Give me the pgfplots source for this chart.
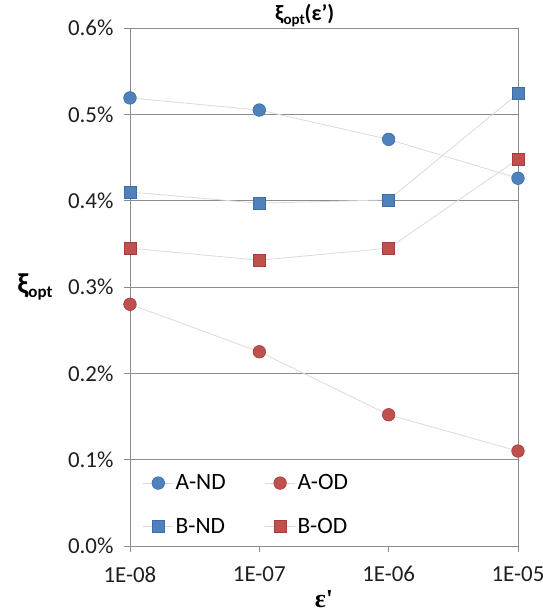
\documentclass[border=0pt]{standalone}
\usepackage{pgfplots}
\pgfplotsset{compat=1.18}
\usepackage{fontspec}
\setmainfont{Carlito}
\newfontfamily\serifb{Liberation Serif}
\definecolor{blueM}{HTML}{4F81BD}
\definecolor{blueE}{HTML}{3C6BA5}
\definecolor{redM}{HTML}{C0504D}
\definecolor{redE}{HTML}{A43E3B}
\definecolor{gridc}{HTML}{8C8C8C}
\definecolor{linec}{HTML}{DADADA}
\begin{document}
\begin{tikzpicture}[x=1bp,y=1bp]
\useasboundingbox (-130bp,-69bp) rectangle (413bp,546bp);
\begin{axis}[
  at={(0,0)}, anchor=south west,
  scale only axis, width=388bp, height=518bp,
  xmode=log, xmin=1e-8, xmax=1e-5,
  xtick={1e-8,1e-7,1e-6,1e-5},
  xticklabels={1E-08,1E-07,1E-06,1E-05},
  ymin=0, ymax=0.6, ytick={0,0.1,0.2,0.3,0.4,0.5,0.6},
  yticklabel={\pgfmathprintnumber[fixed,fixed zerofill,precision=1]{\tick}\%},
  /pgf/number format/assume math mode=true,
  ymajorgrids, major grid style={gridc, line width=0.9bp},
  axis line style={gridc, line width=0.9bp},
  tick style={gridc, line width=0.9bp},
  tick align=outside, major tick length=6bp,
  xtick pos=bottom, ytick pos=left,
  minor tick num=0, xminorticks=false,
  tick label style={font=\fontsize{23}{25}\selectfont, text=black!88},
  xticklabel style={yshift=-11bp},
  yticklabel style={xshift=-7bp},
  title={\fontsize{22}{24}\selectfont\bfseries ξ\raisebox{-0.35ex}{\fontsize{15}{16}\selectfont opt}(ε')},
  title style={at={(axis description cs:0.45,1.013)}, anchor=center},
  ylabel={\fontsize{29}{31}\selectfont\bfseries ξ\raisebox{-0.35ex}{\fontsize{17}{18}\selectfont opt}},
  every axis y label/.style={at={(axis description cs:-0.245,0.5)}, anchor=center},
  xlabel={\fontsize{26}{28}\selectfont\serifb\bfseries ε'},
  every axis x label/.style={at={(axis description cs:0.5,-0.102)}, anchor=center},
  legend columns=2,
  legend image code/.code={\draw[mark repeat=2,mark phase=2,#1] plot coordinates {(0bp,0bp) (15bp,0bp) (30bp,0bp)};},
  legend style={at={(axis description cs:0.025,0.013)}, anchor=south west, draw=none, fill=none,
    font=\fontsize{23.5}{25}\selectfont, row sep=23bp, /tikz/every even column/.append style={column sep=37bp}},
  legend cell align=left,
]
\addplot[linec, line width=0.8bp, mark=*, mark size=6.3bp, mark options={fill=blueM, draw=blueE, line width=0.6bp}]
  coordinates {(1e-8,0.519) (1e-7,0.505) (1e-6,0.471) (1e-5,0.426)};
\addlegendentry{A-ND}
\addplot[linec, line width=0.8bp, mark=*, mark size=6.3bp, mark options={fill=redM, draw=redE, line width=0.6bp}]
  coordinates {(1e-8,0.280) (1e-7,0.225) (1e-6,0.152) (1e-5,0.110)};
\addlegendentry{A-OD}
\addplot[linec, line width=0.8bp, mark=square*, mark size=6bp, mark options={fill=blueM, draw=blueE, line width=0.6bp}]
  coordinates {(1e-8,0.410) (1e-7,0.397) (1e-6,0.401) (1e-5,0.524)};
\addlegendentry{B-ND}
\addplot[linec, line width=0.8bp, mark=square*, mark size=6bp, mark options={fill=redM, draw=redE, line width=0.6bp}]
  coordinates {(1e-8,0.345) (1e-7,0.331) (1e-6,0.345) (1e-5,0.448)};
\addlegendentry{B-OD}
\end{axis}
\end{tikzpicture}
\end{document}
